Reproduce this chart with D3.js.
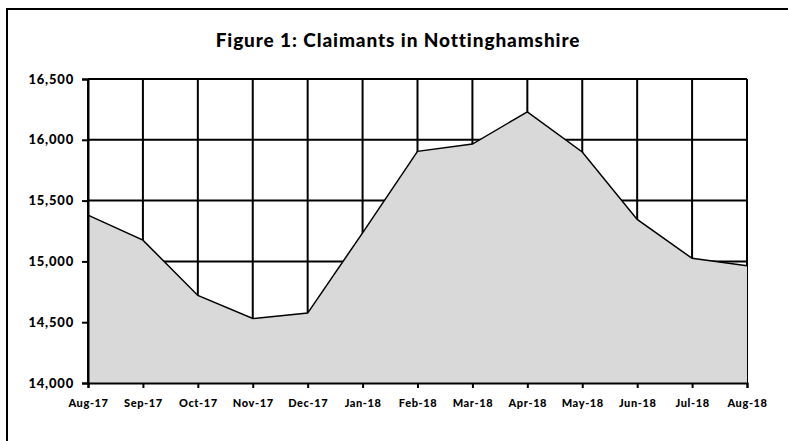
<!DOCTYPE html>
<html>
<head>
<meta charset="utf-8">
<script src="https://cdn.jsdelivr.net/npm/d3@7"></script>
<style>
  body { margin: 0; background: #fff; }
  text { font-family: Lato, "Open Sans", sans-serif; font-weight: 900; fill: #000; }
</style>
</head>
<body>
<script>
//chart data
var months = ["Aug-17", "Sep-17", "Oct-17", "Nov-17", "Dec-17", "Jan-18", "Feb-18",
              "Mar-18", "Apr-18", "May-18", "Jun-18", "Jul-18", "Aug-18"];
var claimants = [15380, 15175, 14720, 14530, 14575, 15235, 15905,
                 15965, 16230, 15900, 15345, 15025, 14965];
var yTicks = [14000, 14500, 15000, 15500, 16000, 16500];
var title = "Figure 1: Claimants in Nottinghamshire";

window.onload = drawChart();

function drawChart(){

	var width = 788,
		height = 441;

	var margin = {left: 88, right: 41, top: 79, bottom: 58};

	var svg = d3.select("body")
		.append("svg")
		.attr("width", width)
		.attr("height", height);

	//outer frame, runs off the right and bottom of the picture
	svg.append("rect")
		.attr("x", 7)
		.attr("y", 9)
		.attr("width", width + 20)
		.attr("height", height + 20)
		.attr("fill", "none")
		.attr("stroke", "#000")
		.attr("stroke-width", 2);

	svg.append("text")
		.attr("x", 398)
		.attr("y", 47)
		.attr("text-anchor", "middle")
		.style("font-size", "19px")
		.style("letter-spacing", "0.9px")
		.text(title);

	var x = d3.scalePoint()
		.domain(months)
		.range([margin.left, width - margin.right]);

	var y = d3.scaleLinear()
		.domain([14000, 16500])
		.range([height - margin.bottom, margin.top]);

	var g = svg.append("g");

	//gridlines
	g.selectAll(".vgrid")
		.data(months)
		.enter()
		.append("line")
		.attr("class", "vgrid")
		.attr("x1", function(d){ return x(d); })
		.attr("x2", function(d){ return x(d); })
		.attr("y1", y(16500))
		.attr("y2", y(14000))
		.attr("stroke", "#000")
		.attr("stroke-width", 2);

	g.selectAll(".hgrid")
		.data(yTicks)
		.enter()
		.append("line")
		.attr("class", "hgrid")
		.attr("x1", x.range()[0])
		.attr("x2", x.range()[1])
		.attr("y1", function(d){ return y(d); })
		.attr("y2", function(d){ return y(d); })
		.attr("stroke", "#000")
		.attr("stroke-width", 2);

	//area
	var area = d3.area()
		.x(function(d, i){ return x(months[i]); })
		.y0(y(14000))
		.y1(function(d){ return y(d); });

	var line = d3.line()
		.x(function(d, i){ return x(months[i]); })
		.y(function(d){ return y(d); });

	g.append("path")
		.datum(claimants)
		.attr("d", area)
		.attr("fill", "#d9d9d9");

	g.append("path")
		.datum(claimants)
		.attr("d", line)
		.attr("fill", "none")
		.attr("stroke", "#000")
		.attr("stroke-width", 1.5);

	//axes
	var yAxis = d3.axisLeft(y)
		.tickValues(yTicks)
		.tickSize(6)
		.tickPadding(8)
		.tickFormat(d3.format(","));

	var xAxis = d3.axisBottom(x)
		.tickSize(5)
		.tickPadding(11);

	var ya = svg.append("g")
		.attr("transform", "translate(" + margin.left + ",0)")
		.call(yAxis);

	var xa = svg.append("g")
		.attr("transform", "translate(0," + y(14000) + ")")
		.call(xAxis);

	[ya, xa].forEach(function(a){
		a.select(".domain").attr("stroke", "#000").attr("stroke-width", 2);
		a.selectAll(".tick line").attr("stroke", "#000").attr("stroke-width", 2);
		a.selectAll("text")
			.style("font-family", "Lato, sans-serif")
			.style("font-weight", 900)
			.attr("fill", "#000");
	});

	ya.selectAll("text").style("font-size", "13px").style("letter-spacing", "0.8px");
	xa.selectAll("text").style("font-size", "11px").style("letter-spacing", "0.6px");
};
</script>
</body>
</html>
